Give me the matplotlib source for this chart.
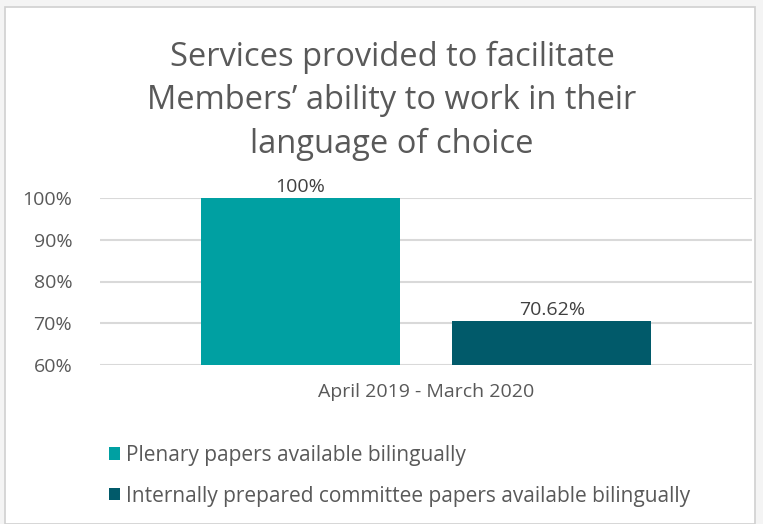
import matplotlib.pyplot as plt
from matplotlib.patches import Rectangle

plt.rcParams['font.family'] = ['Open Sans', 'DejaVu Sans']

title = "Services provided to facilitate\nMembers\u2019 ability to work in their\nlanguage of choice"
period = "April 2019 - March 2020"
series = ["Plenary papers available bilingually",
          "Internally prepared committee papers available bilingually"]
values = [100, 70.62]
value_labels = ["100%", "70.62%"]
colors = ["#00A0A2", "#015A6A"]
yticks = [60, 70, 80, 90, 100]

fig = plt.figure(figsize=(7.63, 5.24), dpi=100)
fig.patch.set_facecolor("#F4F4F4")
fig.patches.append(Rectangle((5 / 763, 0), 750 / 763, 1 - 7 / 524, transform=fig.transFigure,
                             facecolor="white", edgecolor="#D0D0D0", linewidth=1.2, zorder=-5))

ax = fig.add_axes([100 / 763, 1 - 365 / 524, 652 / 763, 167 / 524])
ax.set_facecolor("none")

xpos = [-0.5, 0.5]
for x, v, c, lab, name in zip(xpos, values, colors, value_labels, series):
    ax.bar(x, v - 60, bottom=60, width=0.79, color=c, label=name, zorder=2)
    ax.text(x, v + 0.5, lab, ha="center", va="bottom", fontsize=14, color="#404040")

ax.set_ylim(60, 100)
ax.set_xlim(-1.294, 1.294)
ax.set_yticks(yticks)
ax.set_yticklabels([f"{t}%" for t in yticks], fontsize=14, color="#595959")
ax.set_xticks([0])
ax.set_xticklabels([period], fontsize=14, color="#595959")
ax.tick_params(axis="y", length=0, pad=20)
ax.tick_params(axis="x", length=0, pad=13)
ax.grid(axis="y", color="#D9D9D9", linewidth=1.5, zorder=0)
ax.set_axisbelow(True)
for s in ax.spines.values():
    s.set_visible(False)

fig.text(392 / 763, 1 - 101 / 524, title, ha="center", va="center", fontsize=23.5,
         color="#595959", linespacing=1.42)

fig.legend(loc="upper left", bbox_to_anchor=(90 / 763, 1 - 426 / 524), frameon=False,
           fontsize=15, labelcolor="#595959", handlelength=0.55, handleheight=0.55,
           handletextpad=0.3, labelspacing=0.95)

fig.savefig("out.png", dpi=100)
